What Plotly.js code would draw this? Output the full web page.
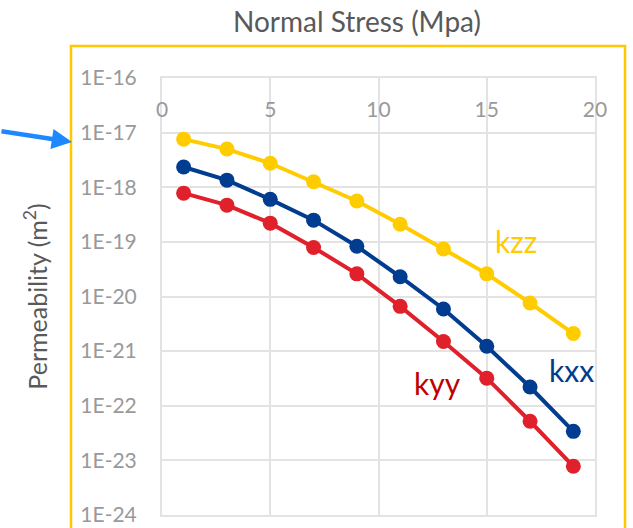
<!DOCTYPE html>
<html>
<head>
<meta charset="utf-8">
<script src="https://cdn.plot.ly/plotly-3.0.1.min.js"></script>
<style>html,body{margin:0;padding:0;background:#fff;}#chart{width:633px;height:528px;}</style>
</head>
<body>
<div id="chart"></div>
<script>
// Normal stress (MPa)
var stress = [1, 3, 5, 7, 9, 11, 13, 15, 17, 19];
// Permeability (m^2)
var kzz = [7.6e-18, 5.0e-18, 2.75e-18, 1.26e-18, 5.6e-19, 2.1e-19, 7.4e-20, 2.6e-20, 7.6e-21, 2.1e-21];
var kxx = [2.35e-18, 1.35e-18, 6.0e-19, 2.5e-19, 8.3e-20, 2.3e-20, 5.9e-21, 1.23e-21, 2.2e-22, 3.4e-23];
var kyy = [7.8e-19, 4.7e-19, 2.2e-19, 7.9e-20, 2.6e-20, 6.6e-21, 1.5e-21, 3.2e-22, 5.2e-23, 7.8e-24];
var seriesNames = ['kzz', 'kxx', 'kyy'];
var xTickVals = [0, 5, 10, 15, 20];
var yTickVals = [1e-16, 1e-17, 1e-18, 1e-19, 1e-20, 1e-21, 1e-22, 1e-23, 1e-24];
var yTickText = ['1E-16', '1E-17', '1E-18', '1E-19', '1E-20', '1E-21', '1E-22', '1E-23', '1E-24'];

var colors = {kzz: '#FFCC00', kxx: '#003C8F', kyy: '#E0202A'};
var labelColors = {kzz: '#FFCC00', kxx: '#003C8F', kyy: '#C00000'};
var dataMap = {kzz: kzz, kxx: kxx, kyy: kyy};

var traces = seriesNames.map(function (n) {
  return {
    x: stress, y: dataMap[n], name: n, type: 'scatter', mode: 'lines+markers',
    line: {color: colors[n], width: 4},
    marker: {color: colors[n], size: 15},
    showlegend: false, hoverinfo: 'x+y'
  };
});
// invisible trace to carry the label-only top axis
traces.push({x: xTickVals, y: [null, null, null, null, null], xaxis: 'x2', yaxis: 'y',
  mode: 'markers', showlegend: false, hoverinfo: 'skip', marker: {opacity: 0}});

var fontFam = 'Lato, "Open Sans", sans-serif';
var gridCol = '#E3E3E3';
var layout = {
  width: 633, height: 528,
  margin: {l: 162, r: 38, t: 78, b: 13},
  paper_bgcolor: '#ffffff', plot_bgcolor: '#ffffff',
  font: {family: fontFam, color: '#999999'},
  title: {text: 'Normal Stress (Mpa)', x: 357 / 633, xanchor: 'center', y: 1 - 22 / 528, yanchor: 'middle',
    font: {family: fontFam, size: 28, color: '#595959'}},
  xaxis: {
    range: [0, 20], side: 'top', tickvals: xTickVals, showticklabels: false,
    showgrid: true, gridcolor: gridCol, gridwidth: 2, zeroline: false,
    showline: true, linecolor: gridCol, linewidth: 2, mirror: true, ticks: '',
    fixedrange: true
  },
  xaxis2: {
    range: [0, 20], overlaying: 'x', side: 'top', anchor: 'free', position: 0.902,
    tickvals: xTickVals, ticktext: xTickVals.map(String), showgrid: false, zeroline: false, showline: false, ticks: '',
    tickfont: {family: fontFam, size: 21, color: '#999999'}, fixedrange: true
  },
  yaxis: {
    type: 'log', range: [-24, -16], tickvals: yTickVals, ticktext: yTickText,
    showgrid: true, gridcolor: gridCol, gridwidth: 2, zeroline: false,
    showline: true, linecolor: gridCol, linewidth: 2, mirror: true,
    ticks: 'outside', ticklen: 19, tickcolor: 'rgba(0,0,0,0)',
    tickfont: {family: fontFam, size: 21, color: '#999999'},
    automargin: 'left',
    title: {text: 'Permeability (m<sup>2</sup>)', font: {family: fontFam, size: 25, color: '#595959'}, standoff: 26},
    fixedrange: true
  },
  shapes: [{
    type: 'rect', xref: 'paper', yref: 'paper',
    x0: (71 - 162) / 433, x1: (625 - 162) / 433, y0: (515 - 545) / 437, y1: 1 + (78 - 46) / 437,
    line: {color: '#FFC800', width: 2.5}, fillcolor: 'rgba(0,0,0,0)', layer: 'below'
  }],
  annotations: [
    {text: 'kzz', x: 15.3, y: Math.log10(1.05e-19), xref: 'x', yref: 'y', xanchor: 'left', yanchor: 'middle', showarrow: false,
      font: {family: fontFam, size: 30, color: labelColors.kzz}},
    {text: 'kxx', x: 17.8, y: Math.log10(4.6e-22), xref: 'x', yref: 'y', xanchor: 'left', yanchor: 'middle', showarrow: false,
      font: {family: fontFam, size: 30, color: labelColors.kxx}},
    {text: 'kyy', x: 11.55, y: Math.log10(2.6e-22), xref: 'x', yref: 'y', xanchor: 'left', yanchor: 'middle', showarrow: false,
      font: {family: fontFam, size: 30, color: labelColors.kyy}},
    {text: '', xref: 'paper', yref: 'paper', x: (72 - 162) / 433, y: 1 - (142 - 78) / 437,
      showarrow: true, ax: -74, ay: -11, arrowcolor: '#1E88FF', arrowwidth: 4.5, arrowhead: 2, arrowsize: 0.9}
  ]
};

Plotly.newPlot('chart', traces, layout, {displayModeBar: false, staticPlot: true});
</script>
</body>
</html>
